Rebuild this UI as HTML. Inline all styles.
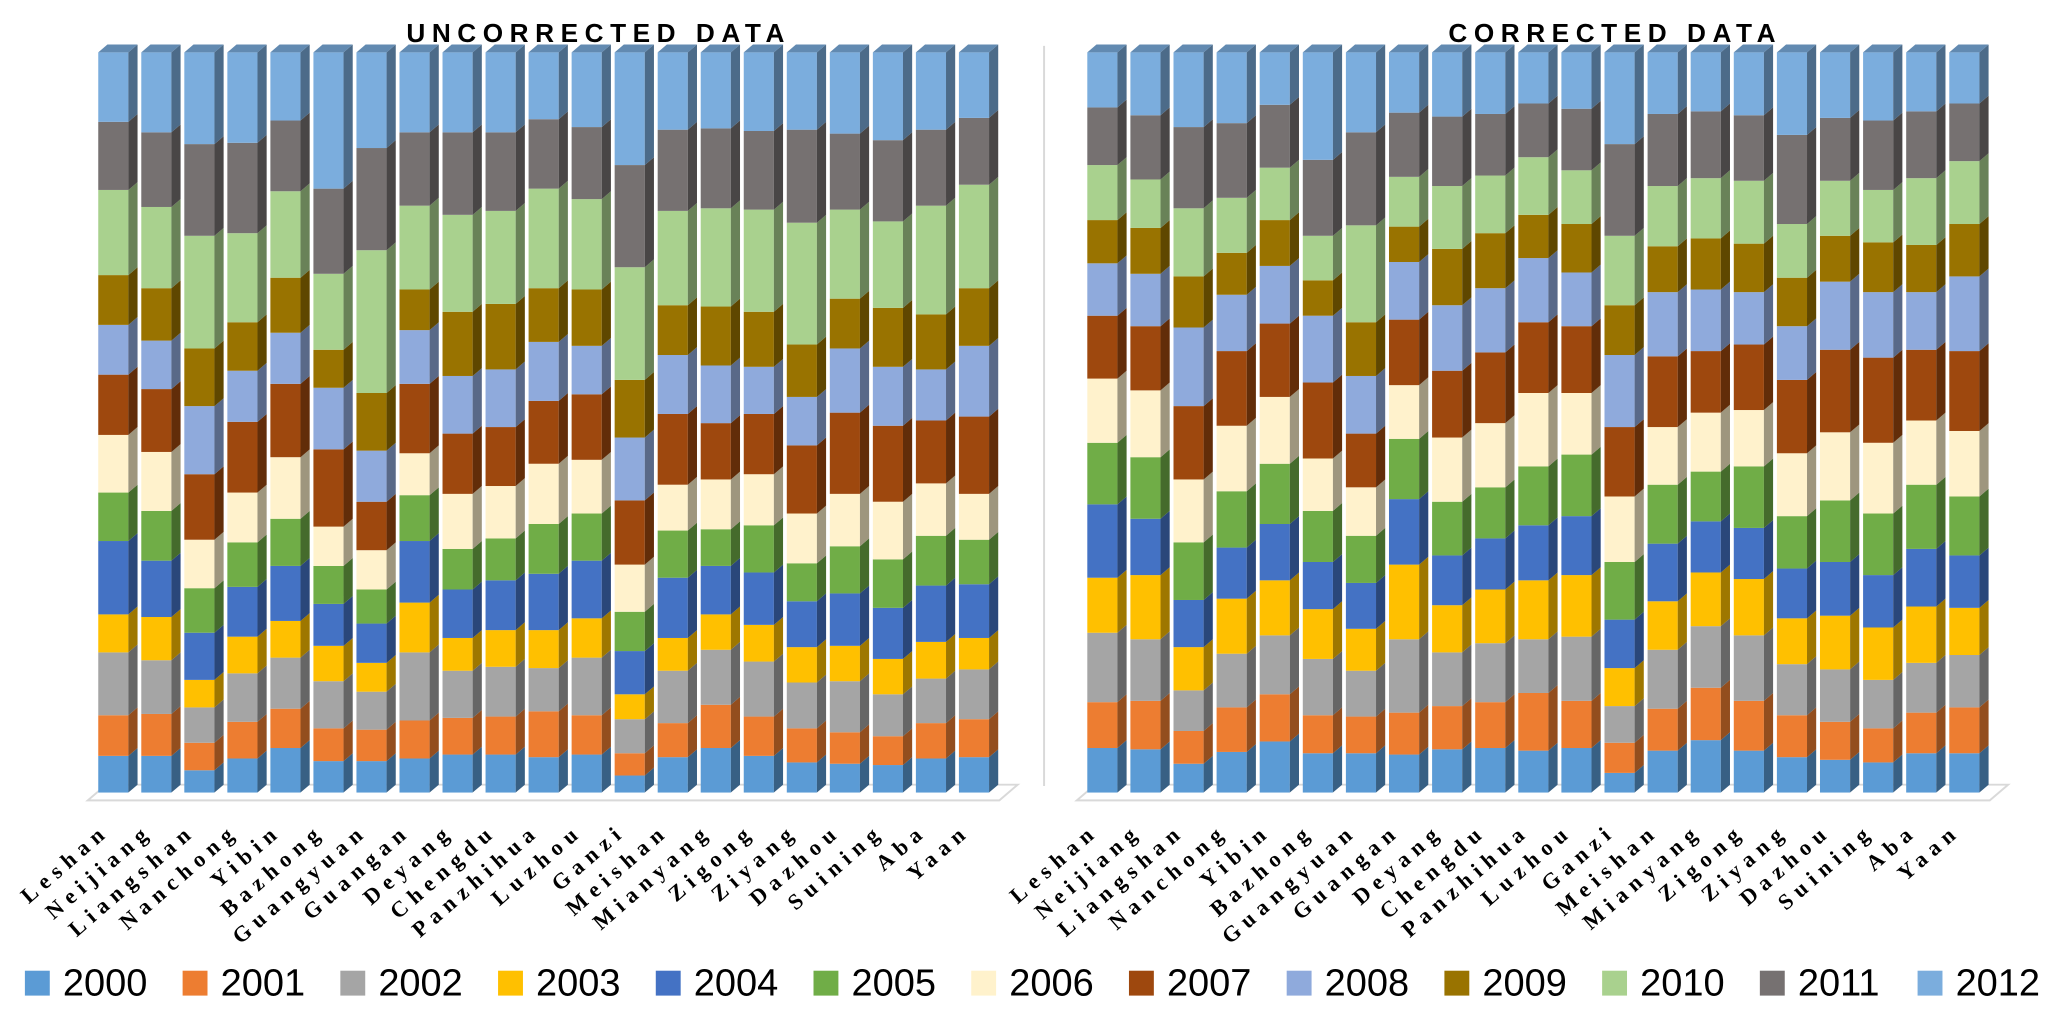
<!DOCTYPE html>
<html><head><meta charset="utf-8"><style>
html,body{margin:0;padding:0;background:#fff;}
svg{display:block;}
</style></head><body>
<svg id="chart" width="2067" height="1019" viewBox="0 0 2067 1019" xmlns="http://www.w3.org/2000/svg">
<g transform="scale(1.31)">
<text x="457" y="32" text-anchor="middle" font-family="Liberation Sans, sans-serif" font-weight="bold" font-size="20" letter-spacing="5">UNCORRECTED DATA</text>
<text x="1233" y="32" text-anchor="middle" font-family="Liberation Sans, sans-serif" font-weight="bold" font-size="20" letter-spacing="5">CORRECTED DATA</text>
<line x1="797" y1="35" x2="797" y2="600" stroke="#d9d9d9" stroke-width="1.5"/>
<g id="plots"></g>
<g id="legend"></g>
</g>
</svg>
<script>
const cities = ["Leshan","Neijiang","Liangshan","Nanchong","Yibin","Bazhong","Guangyuan","Guangan","Deyang","Chengdu","Panzhihua","Luzhou","Ganzi","Meishan","Mianyang","Zigong","Ziyang","Dazhou","Suining","Aba","Yaan"];
const years = ["2000","2001","2002","2003","2004","2005","2006","2007","2008","2009","2010","2011","2012"];
// rows = cities, columns = years (relative shares, 100% stacked)
const uncorrected = [
[28,31,48,29,56,37,44,46,38,38,65,52,53],
[28,32,41,33,43,38,45,48,37,40,62,57,61],
[17,21,27,21,36,34,37,50,52,44,86,70,70],
[26,28,37,28,38,34,38,54,39,37,68,69,69],
[34,30,39,28,42,36,47,56,39,42,66,54,52],
[24,25,36,27,32,29,30,59,47,29,58,65,104],
[24,24,29,22,30,26,30,37,39,44,109,78,73],
[26,29,52,38,47,35,32,53,41,31,64,56,61],
[29,28,36,25,37,31,42,46,44,49,74,63,61],
[29,29,38,28,38,32,40,45,44,50,71,60,61],
[27,35,33,29,43,38,46,48,45,41,76,53,51],
[29,30,44,30,44,36,41,50,37,43,69,55,57],
[13,17,26,19,33,30,36,49,48,44,86,78,86],
[27,26,40,25,46,36,35,54,45,38,72,62,59],
[34,33,42,27,37,28,38,43,44,45,75,61,58],
[28,30,42,28,40,36,39,46,36,42,78,60,60],
[23,26,35,27,35,29,38,52,37,40,93,71,59],
[22,24,39,27,40,36,40,62,49,38,68,58,62],
[21,22,32,27,39,37,44,58,45,45,66,62,67],
[26,27,34,28,43,38,40,48,39,42,83,58,59],
[27,29,38,24,41,34,35,59,54,44,79,51,50]];
const corrected = [
[34,35,53,42,56,47,49,48,40,33,42,44,42],
[33,37,47,49,43,47,51,49,40,35,37,49,48],
[22,25,31,33,36,44,48,56,60,39,52,62,57],
[31,34,41,42,39,43,50,57,43,32,42,57,54],
[39,36,45,42,43,46,51,56,44,35,40,48,40],
[30,29,43,38,36,39,40,58,51,27,34,58,82],
[30,28,35,32,35,36,37,41,44,41,74,71,61],
[29,32,56,57,50,46,41,50,44,27,38,49,46],
[33,33,41,36,38,41,49,51,50,43,48,53,49],
[34,35,45,41,39,39,49,54,49,42,44,47,47],
[32,44,41,45,42,45,56,54,49,33,44,41,39],
[34,36,49,47,45,47,47,51,41,37,41,47,43],
[15,23,28,29,37,44,50,53,55,38,53,70,70],
[32,32,45,37,44,45,44,54,49,35,46,55,47],
[40,40,47,41,39,38,45,47,47,39,46,51,45],
[32,38,50,43,39,47,43,50,40,37,48,50,48],
[27,32,39,35,38,40,48,56,41,37,41,68,63],
[25,29,40,41,41,47,52,63,52,35,42,48,50],
[23,26,37,40,40,47,54,65,50,38,40,53,52],
[30,31,38,43,44,49,49,54,44,36,51,51,45],
[30,35,40,36,40,45,50,61,57,40,48,44,39]];

const colors=["#5B9BD5","#ED7D31","#A5A5A5","#FFC000","#4472C4","#70AD47","#FFF2CC","#9E480E","#8FAADC","#997300","#A9D18E","#767171","#7BADDD"];
const NS="http://www.w3.org/2000/svg";
function dark(hex,f){const n=parseInt(hex.slice(1),16);const r=Math.round(((n>>16)&255)*f),g=Math.round(((n>>8)&255)*f),b=Math.round((n&255)*f);return `rgb(${r},${g},${b})`;}
function mk(tag,attrs,parent){const e=document.createElementNS(NS,tag);for(const k in attrs)e.setAttribute(k,attrs[k]);parent.appendChild(e);return e;}
const yBottom=605, yTop=40, barW=23, dx=7, dy=6;
const yScale=p=>yBottom-(yBottom-yTop)*p;
const plots=document.getElementById('plots');

function drawPanel(data,x0,step,name){
  const g=mk('g',{},plots);
  
  
  const fl=mk('polygon',{points:`${x0-8},${yBottom+6} ${x0+step*21-2},${yBottom+6} ${x0+step*21+12},${yBottom-6} ${x0+6},${yBottom-6}`,fill:'none',stroke:'#d9d9d9','stroke-width':1.5},g);
  
  
  data.forEach((row,i)=>{
    const x=x0+i*step;
    const total=row.reduce((a,b)=>a+b,0);
    let cum=0;
    const bg=mk('g',{},g);
    
    
    row.forEach((v,j)=>{
      const y1=yScale(cum/total); cum+=v; const y2=yScale(cum/total);
      const f=mk('rect',{x:x,y:y2,width:barW,height:Math.max(0,y1-y2),fill:colors[j]},bg);
      
      
      const s=mk('polygon',{points:`${x+barW},${y2} ${x+barW+dx},${y2-dy} ${x+barW+dx},${y1-dy} ${x+barW},${y1}`,fill:dark(colors[j],0.62)},bg);
      
      
      if(j===row.length-1){
        const t=mk('polygon',{points:`${x},${y2} ${x+dx},${y2-dy} ${x+barW+dx},${y2-dy} ${x+barW},${y2}`,fill:dark(colors[j],0.8)},bg);
        
        
      }
    });
    const lx=x+barW/2-2, ly=636;
    const lab=mk('text',{x:lx,y:ly,'text-anchor':'end','font-family':'Liberation Serif, serif','font-weight':'bold','font-size':17,'letter-spacing':5,transform:`rotate(-41 ${lx} ${ly})`},g);
    lab.textContent=cities[i];
    
    
  });
}
drawPanel(uncorrected,75,32.85,'uncorrected-chart');
drawPanel(corrected,830,32.9,'corrected-chart');

const leg=document.getElementById('legend');
years.forEach((yr,j)=>{
  const x=19+j*120.4;
  const g=mk('g',{},leg);
  
  
  const r=mk('rect',{x:x,y:741,width:19,height:19,fill:colors[j]},g);
  
  
  const t=mk('text',{x:x+29,y:760,'font-family':'Liberation Sans, sans-serif','font-size':29,fill:'#000'},g);
  t.textContent=yr;
  
  
});
</script>
</body></html>
